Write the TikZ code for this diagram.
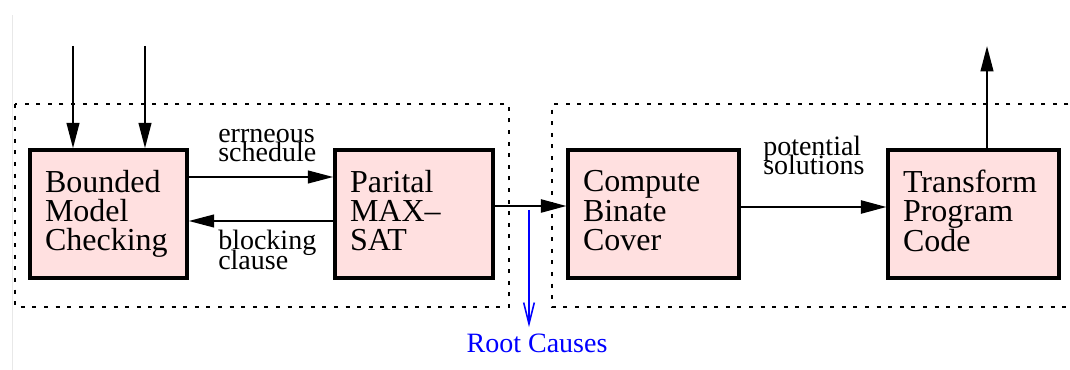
\documentclass[tikz,border=0pt]{standalone}
\usepackage{fontspec}
\setmainfont{Liberation Serif}
\usetikzlibrary{arrows.meta}
\definecolor{boxpink}{RGB}{255,224,224}
\definecolor{rcblue}{RGB}{0,0,255}
% two tightly set lines; the box's baseline is that of the second line
\newcommand\pairlines[2]{\vbox{\baselineskip=14.6pt\lineskiplimit=-\maxdimen\hbox{#1}\hbox{#2}}}
\tikzset{
  block/.style={draw, line width=2.6pt, fill=boxpink, inner xsep=11.25pt, inner ysep=0pt,
    minimum height=96pt, align=left, font=\fontsize{24pt}{22pt}\selectfont},
  lbl/.style={inner sep=0pt, anchor=base west, font=\fontsize{21pt}{14.6pt}\selectfont},
  thickarrow/.style={line width=1.5pt, -{Triangle[length=19pt,width=9.5pt]}},
  thinarrow/.style={line width=0.9pt, -{Triangle[length=19pt,width=10pt]}},
  group/.style={line width=1.5pt, dash pattern=on 3pt off 5.7pt},
}
\begin{document}
\begin{tikzpicture}[x=0.75pt,y=-0.75pt]
\useasboundingbox (0,0) rectangle (1070,370);
% page edge
\draw[gray!18, line width=0.75pt] (12,15) -- (12,370);

% grouping frames
\draw[group] (15,104) rectangle (509,307);
\draw[group] (1080,104) -- (552,104) -- (552,307) -- (1080,307);

% processing blocks
\node[block, text width=95.25pt] (bmc) at (108.5,214) {Bounded\\Model\\Checking\vphantom{g}};
\node[block, text width=96pt] (sat) at (414,214) {Parital\\MAX–\\SAT\vphantom{g}};
\node[block, text width=105.75pt] (cov) at (653.5,214) {Compute\\Binate\\Cover\vphantom{g}};
\node[block, text width=105.75pt] (xf) at (973.5,214) {Transform\\Program\\Code\vphantom{g}};

% inputs and output
\coordinate (in1) at (73,46);
\coordinate (in2) at (145,46);
\coordinate (out) at (987,46);
\draw[thickarrow] (in1) -- (in1 |- bmc.north);
\draw[thickarrow] (in2) -- (in2 |- bmc.north);
\draw[thickarrow] (out |- xf.north) -- (out);

% loop between model checker and MAX-SAT
\draw[thickarrow] ([yshift=27.75pt]bmc.east) -- ([yshift=27.75pt]sat.west);
\draw[thickarrow] ([yshift=-5.25pt]sat.west) -- ([yshift=-5.25pt]bmc.east);
\node[lbl] (l1) at (218,162) {\pairlines{errneous}{schedule}};
\node[lbl] (l2) at (218,269) {\pairlines{blocking}{clause}};

% forward flow
\draw[thinarrow] ([yshift=6pt]sat.east) -- ([yshift=6pt]cov.west);
\draw[thinarrow] ([yshift=5.25pt]cov.east) -- ([yshift=5.25pt]xf.west);
\node[lbl] (l3) at (763,175) {\pairlines{potential}{solutions}};

% root causes
\coordinate (rc1) at (529,210);
\node[inner sep=0pt, anchor=base, text=rcblue, font=\fontsize{21pt}{24pt}\selectfont] (rc) at (537,352) {Root Causes};
\draw[rcblue, line width=1.2pt, -{Straight Barb[length=16pt,width=8pt]}] (rc1) -- ([yshift=4.5pt]rc1 |- rc.north);
\end{tikzpicture}
\end{document}
